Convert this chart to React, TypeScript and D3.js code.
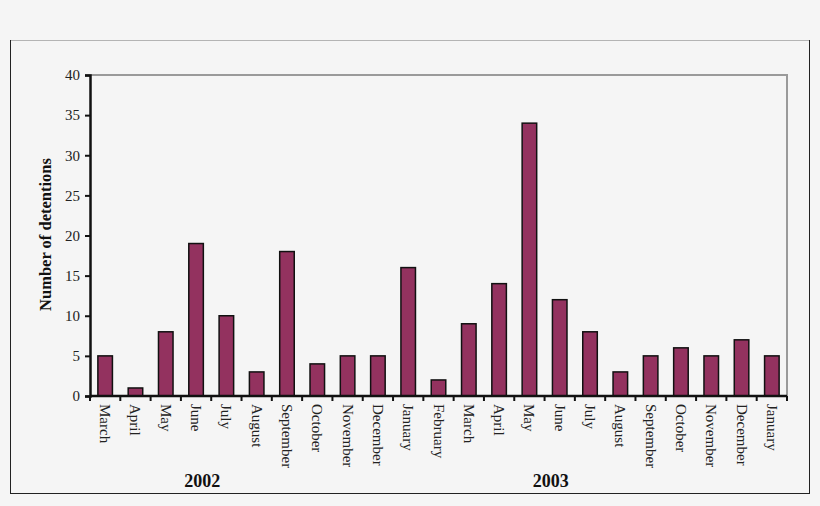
import React, { useRef, useEffect } from "react";
import * as d3 from "d3";

const months = [
  "March", "April", "May", "June", "July", "August", "September", "October",
  "November", "December", "January", "February", "March", "April", "May",
  "June", "July", "August", "September", "October", "November", "December", "January",
];
const detentions = [5, 1, 8, 19, 10, 3, 18, 4, 5, 5, 16, 2, 9, 14, 34, 12, 8, 3, 5, 6, 5, 7, 5];
const yTicks = [0, 5, 10, 15, 20, 25, 30, 35, 40];
const years = [
  { label: "2002", pos: 3.2 },
  { label: "2003", pos: 14.7 },
];

const W = 820;
const H = 506;
const margin = { top: 75, right: 33, bottom: 110, left: 90 };

const App: React.FC = () => {
  const svgRef = useRef<SVGSVGElement | null>(null);

  useEffect(() => {
    const svg = d3.select(svgRef.current);
    svg.selectAll("*").remove();
    const font = "'Liberation Serif', 'Times New Roman', serif";

    svg.append("rect").attr("width", W).attr("height", H).attr("fill", "#f5f5f5");

    // outer frame
    const frame = svg.append("g");
    frame.append("line").attr("x1", 10).attr("x2", 809).attr("y1", 40.5).attr("y2", 40.5)
      .attr("stroke", "#b4b4b4").attr("stroke-width", 1);
    frame.append("line").attr("x1", 10.5).attr("x2", 10.5).attr("y1", 40).attr("y2", 493)
      .attr("stroke", "#222").attr("stroke-width", 1);
    frame.append("line").attr("x1", 809.5).attr("x2", 809.5).attr("y1", 40).attr("y2", 493)
      .attr("stroke", "#222").attr("stroke-width", 1);
    frame.append("line").attr("x1", 10).attr("x2", 810).attr("y1", 493.5).attr("y2", 493.5)
      .attr("stroke", "#222").attr("stroke-width", 1);

    const x = d3
      .scaleBand()
      .domain(months.map((_, i) => String(i)))
      .range([margin.left, W - margin.right])
      .paddingInner(0.52)
      .paddingOuter(0.26);

    const step = x.step();
    const x0 = margin.left;

    const y = d3
      .scaleLinear()
      .domain([0, 40])
      .range([H - margin.bottom, margin.top]);

    // plot border top/right
    svg.append("path")
      .attr("d", `M${margin.left},${margin.top}H${W - margin.right}V${H - margin.bottom}`)
      .attr("fill", "none").attr("stroke", "#9a9a9a").attr("stroke-width", 2);

    // bars
    svg.append("g")
      .selectAll("rect")
      .data(detentions)
      .enter()
      .append("rect")
      .attr("x", (_, i) => x(String(i))!)
      .attr("width", x.bandwidth())
      .attr("y", (d) => y(d))
      .attr("height", (d) => y(0) - y(d))
      .attr("fill", "#93325f")
      .attr("stroke", "#111")
      .attr("stroke-width", 1.5);

    // y axis
    const yAxis = svg.append("g")
      .attr("transform", `translate(${margin.left},0)`)
      .call(d3.axisLeft(y).tickValues(yTicks).tickSize(5).tickPadding(5));
    yAxis.select(".domain").attr("stroke", "#111").attr("stroke-width", 2.5);
    yAxis.selectAll(".tick line").attr("stroke", "#111").attr("stroke-width", 2);
    yAxis.selectAll(".tick text")
      .attr("font-family", font).attr("font-size", 15).attr("fill", "#222");

    // x axis
    const xa = svg.append("g");
    xa.append("line")
      .attr("x1", margin.left).attr("x2", W - margin.right)
      .attr("y1", y(0)).attr("y2", y(0))
      .attr("stroke", "#111").attr("stroke-width", 2.5);
    xa.selectAll("line.tk")
      .data(d3.range(months.length + 1))
      .enter()
      .append("line")
      .attr("class", "tk")
      .attr("x1", (i) => x0 + i * step).attr("x2", (i) => x0 + i * step)
      .attr("y1", y(0)).attr("y2", y(0) + 5)
      .attr("stroke", "#111").attr("stroke-width", 2);
    xa.selectAll("text")
      .data(months)
      .enter()
      .append("text")
      .attr("transform", (_, i) => `translate(${x(String(i))! + x.bandwidth() / 2 - 5},${y(0) + 8}) rotate(90)`)
      .attr("font-family", font)
      .attr("font-size", 15)
      .attr("fill", "#222")
      .attr("text-anchor", "start")
      .text((d) => d);

    // year labels
    svg.append("g")
      .selectAll("text")
      .data(years)
      .enter()
      .append("text")
      .attr("x", (d) => x0 + (d.pos + 0.5) * step)
      .attr("y", 487)
      .attr("text-anchor", "middle")
      .attr("font-family", font)
      .attr("font-weight", "bold")
      .attr("font-size", 18)
      .attr("fill", "#111")
      .text((d) => d.label);

    // y title
    svg.append("text")
      .attr("transform", `translate(51,${(margin.top + H - margin.bottom) / 2 - 1}) rotate(-90)`)
      .attr("text-anchor", "middle")
      .attr("font-family", font)
      .attr("font-weight", "bold")
      .attr("font-size", 16.5)
      .attr("fill", "#111")
      .text("Number of detentions");
  }, []);

  return (
    <svg
      ref={svgRef}
      width={W}
      height={H}
      style={{ position: "absolute", left: 0, top: 0 }}
    />
  );
};

export default App;
